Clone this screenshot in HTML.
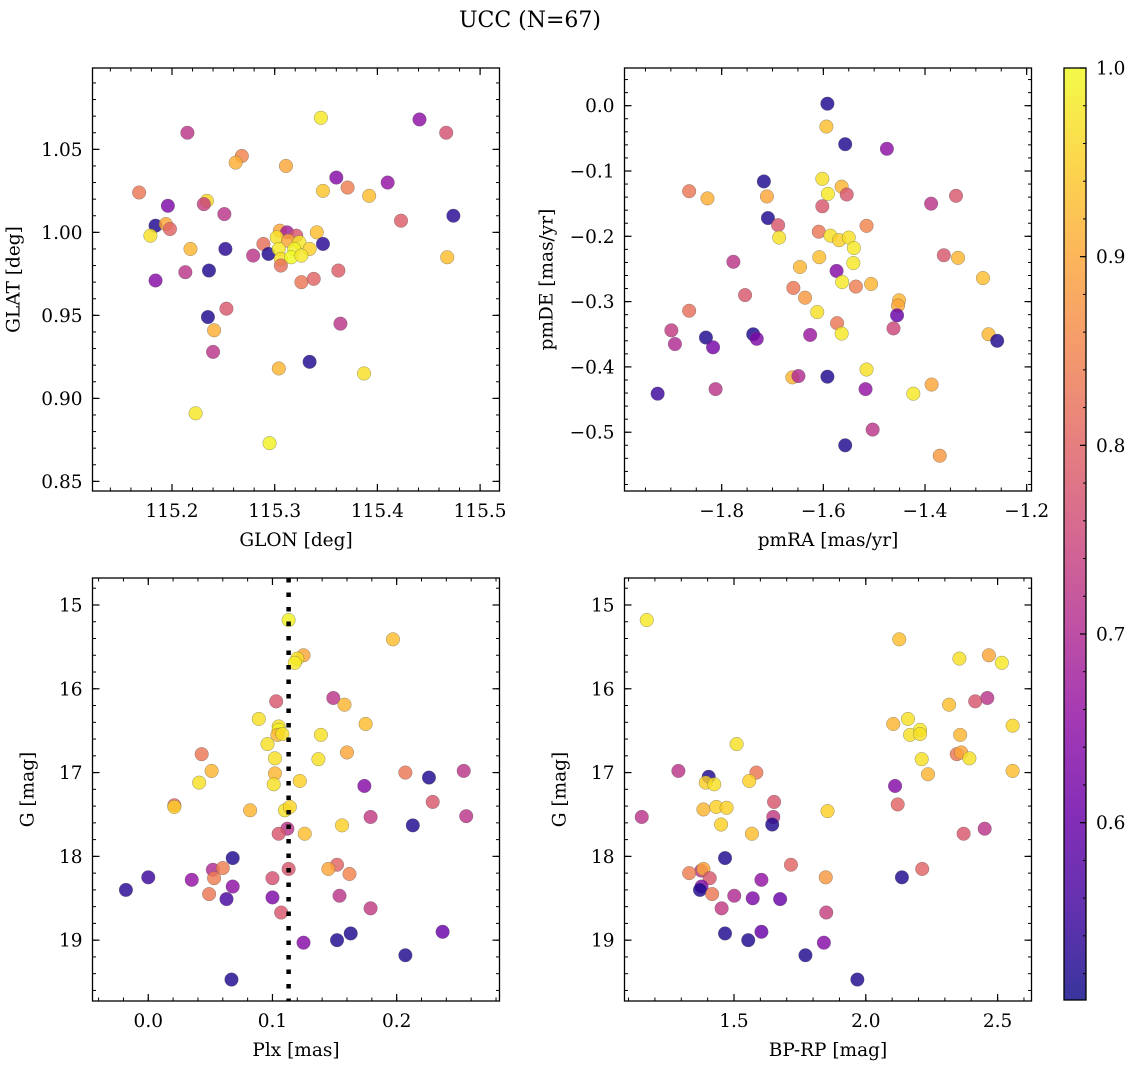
<!DOCTYPE html>
<html><head><meta charset="utf-8">
<style>
html,body{margin:0;padding:0;background:#fff;}
svg{display:block;font-family:"DejaVu Serif","Liberation Serif",serif;}
</style></head>
<body>
<svg id="fig" width="1136" height="1068" viewBox="0 0 1136 1068" xmlns="http://www.w3.org/2000/svg">
<defs>
<linearGradient id="plasmaGrad" x1="0" y1="1" x2="0" y2="0">
<stop offset="0" stop-color="#0d0887"/><stop offset="0.1" stop-color="#41049d"/><stop offset="0.2" stop-color="#6a00a8"/><stop offset="0.3" stop-color="#8f0da4"/><stop offset="0.4" stop-color="#b12a90"/><stop offset="0.5" stop-color="#cc4778"/><stop offset="0.6" stop-color="#e16462"/><stop offset="0.7" stop-color="#f2844b"/><stop offset="0.8" stop-color="#fca636"/><stop offset="0.9" stop-color="#fcce25"/><stop offset="1" stop-color="#f0f921"/>
</linearGradient>
</defs>
<text x="530" y="27" font-size="22" text-anchor="middle">UCC (N=67)</text>
</svg>
<script>
// ---- Panel 1: GLON vs GLAT ----
const glon=[115.215,115.345,115.441,115.467,115.268,115.262,115.311,115.360,115.168,115.347,115.371,115.410,115.392,115.234,115.231,115.196,115.251,115.423,115.474,115.184,115.194,115.198,115.179,115.218,115.252,115.279,115.289,115.294,115.341,115.347,115.468,115.184,115.213,115.236,115.326,115.338,115.362,115.305,115.312,115.321,115.302,115.313,115.324,115.304,115.319,115.334,115.306,115.316,115.326,115.306,115.235,115.253,115.241,115.240,115.364,115.304,115.334,115.387,115.223,115.295];
const glat=[1.060,1.069,1.068,1.060,1.046,1.042,1.040,1.033,1.024,1.025,1.027,1.030,1.022,1.019,1.017,1.016,1.011,1.007,1.010,1.004,1.005,1.002,0.998,0.990,0.990,0.986,0.993,0.987,1.000,0.993,0.985,0.971,0.976,0.977,0.970,0.972,0.977,1.001,1.000,0.998,0.997,0.995,0.994,0.990,0.990,0.990,0.984,0.985,0.986,0.980,0.949,0.954,0.941,0.928,0.945,0.918,0.922,0.915,0.891,0.873];
const prob1=[0.72,0.98,0.65,0.77,0.85,0.91,0.90,0.64,0.83,0.94,0.84,0.66,0.93,0.96,0.74,0.63,0.72,0.79,0.53,0.52,0.90,0.80,0.97,0.92,0.53,0.72,0.82,0.52,0.93,0.53,0.93,0.64,0.72,0.52,0.83,0.80,0.79,0.90,0.68,0.78,0.97,0.90,0.98,0.98,0.99,0.95,0.97,1.0,0.98,0.82,0.52,0.78,0.91,0.72,0.72,0.92,0.52,0.97,0.98,0.99];
const glonTicks=[115.2,115.3,115.4,115.5];
const glatTicks=[0.85,0.90,0.95,1.00,1.05];
// ---- Panel 2: pmRA vs pmDE ----
const pmra=[-1.592,-1.594,-1.557,-1.475,-1.717,-1.602,-1.564,-1.554,-1.591,-1.864,-1.828,-1.711,-1.602,-1.388,-1.339,-1.709,-1.689,-1.687,-1.609,-1.586,-1.569,-1.550,-1.515,-1.540,-1.363,-1.335,-1.777,-1.608,-1.646,-1.541,-1.574,-1.286,-1.563,-1.536,-1.506,-1.659,-1.754,-1.636,-1.451,-1.453,-1.612,-1.864,-1.455,-1.573,-1.899,-1.462,-1.564,-1.626,-1.831,-1.738,-1.731,-1.275,-1.258,-1.892,-1.817,-1.515,-1.661,-1.649,-1.592,-1.517,-1.387,-1.423,-1.926,-1.812,-1.503,-1.557,-1.371];
const pmde=[0.003,-0.032,-0.059,-0.066,-0.116,-0.112,-0.124,-0.136,-0.135,-0.131,-0.142,-0.139,-0.154,-0.150,-0.138,-0.172,-0.183,-0.202,-0.193,-0.199,-0.206,-0.202,-0.184,-0.218,-0.229,-0.233,-0.239,-0.232,-0.247,-0.241,-0.253,-0.264,-0.270,-0.277,-0.273,-0.279,-0.290,-0.294,-0.298,-0.306,-0.316,-0.314,-0.321,-0.333,-0.344,-0.341,-0.349,-0.351,-0.355,-0.350,-0.357,-0.350,-0.360,-0.365,-0.370,-0.404,-0.416,-0.414,-0.415,-0.434,-0.427,-0.441,-0.441,-0.434,-0.496,-0.520,-0.536];
const prob2=[0.52,0.93,0.52,0.65,0.52,0.97,0.92,0.78,0.98,0.83,0.91,0.90,0.78,0.72,0.78,0.52,0.78,0.97,0.83,0.97,0.95,0.97,0.85,0.98,0.78,0.92,0.72,0.93,0.92,0.98,0.64,0.93,0.98,0.84,0.92,0.83,0.78,0.88,0.92,0.90,0.97,0.82,0.60,0.83,0.73,0.75,0.98,0.67,0.52,0.52,0.63,0.92,0.52,0.70,0.62,0.97,0.92,0.70,0.52,0.66,0.90,0.98,0.55,0.72,0.72,0.52,0.88];
const pmraTicks=[-1.8,-1.6,-1.4,-1.2];
const pmdeTicks=[0.0,-0.1,-0.2,-0.3,-0.4,-0.5];
// ---- Panel 3: Plx vs G ----
const plx=[0.113,0.197,0.125,0.120,0.118,0.103,0.149,0.158,0.089,0.105,0.105,0.104,0.108,0.175,0.139,0.096,0.043,0.160,0.102,0.137,0.051,0.102,0.207,0.254,0.226,0.041,0.101,0.122,0.174,0.021,0.229,0.021,0.082,0.110,0.114,0.179,0.256,0.156,0.213,0.112,0.105,0.126,0.068,0.152,0.145,0.113,0.162,0.052,0.060,0.053,0.000,0.035,0.100,0.068,-0.018,0.049,0.063,0.100,0.154,0.107,0.179,0.237,0.163,0.152,0.125,0.207,0.067];
const gmag3=[15.18,15.41,15.60,15.64,15.69,16.15,16.11,16.19,16.36,16.45,16.49,16.55,16.54,16.42,16.55,16.66,16.78,16.76,16.83,16.84,16.98,17.01,17.00,16.98,17.06,17.12,17.14,17.10,17.16,17.39,17.35,17.41,17.45,17.45,17.41,17.53,17.52,17.63,17.63,17.67,17.73,17.73,18.02,18.10,18.15,18.15,18.21,18.16,18.14,18.26,18.25,18.28,18.26,18.36,18.40,18.45,18.51,18.49,18.47,18.67,18.62,18.90,18.92,19.00,19.03,19.18,19.47];
const prob3=[0.99,0.93,0.90,0.97,0.98,0.78,0.72,0.92,0.97,0.97,0.99,0.92,0.97,0.93,0.97,0.97,0.83,0.90,0.97,0.97,0.92,0.92,0.83,0.72,0.52,0.97,0.97,0.95,0.64,0.80,0.78,0.95,0.92,0.97,0.96,0.73,0.72,0.95,0.52,0.72,0.78,0.93,0.52,0.80,0.90,0.78,0.85,0.70,0.84,0.84,0.55,0.66,0.77,0.65,0.53,0.83,0.56,0.63,0.72,0.78,0.73,0.60,0.52,0.52,0.64,0.52,0.52];
const plxTicks=[0.0,0.1,0.2];
const plxCut=[0.113];
const gTicks=[15,16,17,18,19];
// ---- Panel 4: BP-RP vs G ----
const bprp=[1.169,2.127,2.355,2.467,2.516,2.461,2.415,2.316,2.104,2.160,2.206,2.168,2.206,2.557,2.358,1.510,2.345,2.362,2.393,2.212,1.289,1.585,2.236,2.557,1.404,1.393,1.425,1.558,2.111,1.652,2.121,1.150,1.384,1.433,1.472,1.855,1.649,1.645,1.451,1.568,2.371,2.451,1.466,1.716,2.214,1.376,1.384,1.330,1.848,2.137,1.408,1.604,1.377,1.371,1.417,1.501,1.571,1.675,1.453,1.850,1.466,1.604,1.554,1.841,1.771,1.968];
const gmag4=[15.18,15.41,15.64,15.60,15.69,16.11,16.15,16.19,16.42,16.36,16.49,16.55,16.54,16.44,16.55,16.66,16.78,16.76,16.83,16.84,16.98,17.00,17.02,16.98,17.05,17.12,17.14,17.10,17.16,17.35,17.38,17.53,17.44,17.41,17.42,17.46,17.53,17.62,17.62,17.73,17.73,17.67,18.02,18.10,18.15,18.17,18.15,18.20,18.25,18.25,18.26,18.28,18.36,18.40,18.45,18.47,18.50,18.51,18.62,18.67,18.92,18.90,19.00,19.03,19.18,19.47];
const prob4=[0.98,0.93,0.97,0.90,0.98,0.72,0.78,0.93,0.92,0.97,0.98,0.97,0.97,0.96,0.92,0.97,0.83,0.90,0.97,0.97,0.72,0.83,0.92,0.93,0.52,0.95,0.97,0.95,0.64,0.78,0.80,0.72,0.92,0.95,0.95,0.95,0.73,0.52,0.95,0.93,0.78,0.72,0.52,0.80,0.80,0.72,0.90,0.84,0.88,0.52,0.78,0.66,0.64,0.52,0.83,0.70,0.63,0.60,0.73,0.74,0.52,0.60,0.52,0.64,0.52,0.52];
const bprpTicks=[1.5,2.0,2.5];
// ---- Colorbar ----
const cbTicks=[0.6,0.7,0.8,0.9,1.0];
const cbMin=0.506, cbMax=1.0;

const NS='http://www.w3.org/2000/svg';
const svg=document.getElementById('fig');
const FS=18.5;
function mk(tag,attrs,parent){const e=document.createElementNS(NS,tag);for(const k in attrs)e.setAttribute(k,attrs[k]);(parent||svg).appendChild(e);return e;}
const stops=['#0d0887','#41049d','#6a00a8','#8f0da4','#b12a90','#cc4778','#e16462','#f2844b','#fca636','#fcce25','#f0f921'];
function hex(h){return [parseInt(h.substr(1,2),16),parseInt(h.substr(3,2),16),parseInt(h.substr(5,2),16)];}
function plasma(v){let t=(v-cbMin)/(cbMax-cbMin);t=Math.max(0,Math.min(1,t))*10;const i=Math.min(9,Math.floor(t));const f=t-i;const a=hex(stops[i]),b=hex(stops[i+1]);return 'rgb('+a.map((x,k)=>Math.round(x+(b[k]-x)*f)).join(',')+')';}
function fmt(v,d){const s=Math.abs(v).toFixed(d);return (v<-1e-9?'\u2212':'')+s;}

function panel(cfg,xs,ys,cs,xt,yt,name){
  const g=mk('g',{});
  
  
  const X=v=>cfg.l+(v-cfg.x0)/(cfg.x1-cfg.x0)*(cfg.r-cfg.l);
  const Y=v=>cfg.b-(v-cfg.y0)/(cfg.y1-cfg.y0)*(cfg.b-cfg.t);
  const mx=Math.ceil(Math.min(cfg.x0,cfg.x1)/cfg.xm-1e-6);
  for(let k=mx;k*cfg.xm<=Math.max(cfg.x0,cfg.x1)+1e-9;k++){const px=X(k*cfg.xm);
    const m1=mk('line',{x1:px,x2:px,y1:cfg.b,y2:cfg.b-3.5,stroke:'#000','stroke-width':1},g);
    
    mk('line',{x1:px,x2:px,y1:cfg.t,y2:cfg.t+3.5,stroke:'#000','stroke-width':1},g);}
  const lo=Math.min(cfg.y0,cfg.y1),hi=Math.max(cfg.y0,cfg.y1);
  for(let k=Math.ceil(lo/cfg.ym-1e-6);k*cfg.ym<=hi+1e-9;k++){const py=Y(k*cfg.ym);
    const m2=mk('line',{x1:cfg.l,x2:cfg.l+3.5,y1:py,y2:py,stroke:'#000','stroke-width':1},g);
    
    mk('line',{x1:cfg.r,x2:cfg.r-3.5,y1:py,y2:py,stroke:'#000','stroke-width':1},g);}
  xt.forEach(v=>{const px=X(v);
    mk('line',{x1:px,x2:px,y1:cfg.b,y2:cfg.b-7,stroke:'#000','stroke-width':1.2},g);
    mk('line',{x1:px,x2:px,y1:cfg.t,y2:cfg.t+7,stroke:'#000','stroke-width':1.2},g);
    const t=mk('text',{x:px,y:cfg.b+26,'font-size':FS,'text-anchor':'middle'},g);
    
    t.textContent=fmt(v,cfg.xd);});
  yt.forEach(v=>{const py=Y(v);
    mk('line',{x1:cfg.l,x2:cfg.l+7,y1:py,y2:py,stroke:'#000','stroke-width':1.2},g);
    mk('line',{x1:cfg.r,x2:cfg.r-7,y1:py,y2:py,stroke:'#000','stroke-width':1.2},g);
    const t=mk('text',{x:cfg.l-10,y:py+6.5,'font-size':FS,'text-anchor':'end'},g);
    
    t.textContent=fmt(v,cfg.yd);});
  const ord=xs.map((_,i)=>i);
  ord.forEach(i=>{const c=mk('circle',{cx:X(xs[i]),cy:Y(ys[i]),r:6.8,fill:plasma(cs[i]),'fill-opacity':0.82,stroke:'#555','stroke-opacity':0.6,'stroke-width':0.5},g);
    
    });
  if(cfg.vline){cfg.vline.forEach(v=>{const ln=mk('line',{x1:X(v),x2:X(v),y1:cfg.t,y2:cfg.b,stroke:'#000','stroke-width':4.5,'stroke-dasharray':'4.5 10'},g);
    });}
  const fr=mk('rect',{x:cfg.l,y:cfg.t,width:cfg.r-cfg.l,height:cfg.b-cfg.t,fill:'none',stroke:'#000','stroke-width':1.3},g);
  
  const xl=mk('text',{x:(cfg.l+cfg.r)/2,y:cfg.b+55,'font-size':FS,'text-anchor':'middle'},g);
  
  xl.textContent=cfg.xlab;
  const yx=cfg.l-cfg.ylo, yy=(cfg.t+cfg.b)/2;
  const yl=mk('text',{x:yx,y:yy,'font-size':FS,'text-anchor':'middle',transform:'rotate(-90 '+yx+' '+yy+')'},g);
  
  yl.textContent=cfg.ylab;
}

panel({l:92.5,r:499.5,t:68,b:491,x0:115.1226,x1:115.5189,y0:0.8442,y1:1.099,xm:0.02,ym:0.01,xd:1,yd:2,xlab:'GLON [deg]',ylab:'GLAT [deg]',ylo:73},glon,glat,prob1,glonTicks,glatTicks,'panel-glon-glat');
panel({l:624.5,r:1031.5,t:68,b:491,x0:-1.9912,x1:-1.1905,y0:-0.590,y1:0.0577,xm:0.05,ym:0.02,xd:1,yd:1,xlab:'pmRA [mas/yr]',ylab:'pmDE [mas/yr]',ylo:72},pmra,pmde,prob2,pmraTicks,pmdeTicks,'panel-proper-motion');
panel({l:92.5,r:499.5,t:578,b:1001,x0:-0.0449,x1:0.2828,y0:19.726,y1:14.678,xm:0.02,ym:0.2,xd:1,yd:0,xlab:'Plx [mas]',ylab:'G [mag]',ylo:59,vline:plxCut},plx,gmag3,prob3,plxTicks,gTicks,'panel-plx-g');
panel({l:624.5,r:1031.5,t:578,b:1001,x0:1.0846,x1:2.6286,y0:19.726,y1:14.678,xm:0.1,ym:0.2,xd:1,yd:0,xlab:'BP-RP [mag]',ylab:'G [mag]',ylo:59},bprp,gmag4,prob4,bprpTicks,gTicks,'panel-cmd');

const cbL=1064,cbR=1086,cbT=68,cbB=1000;
const CY=v=>cbB-(v-cbMin)/(cbMax-cbMin)*(cbB-cbT);
const cbr=mk('rect',{x:cbL,y:cbT,width:cbR-cbL,height:cbB-cbT,fill:'url(#plasmaGrad)','fill-opacity':0.82});

for(let v=0.52;v<=1.0001;v+=0.02){const py=CY(v);mk('line',{x1:cbR,x2:cbR-3,y1:py,y2:py,stroke:'#000','stroke-width':1});}
cbTicks.forEach(v=>{const py=CY(v);
  mk('line',{x1:cbR,x2:cbR-6,y1:py,y2:py,stroke:'#000','stroke-width':1.2});
  const t=mk('text',{x:cbR+10,y:py+6.5,'font-size':FS});
  
  t.textContent=v.toFixed(1);});
const cbf=mk('rect',{x:cbL,y:cbT,width:cbR-cbL,height:cbB-cbT,fill:'none',stroke:'#000','stroke-width':1.3});

</script>
</body></html>
